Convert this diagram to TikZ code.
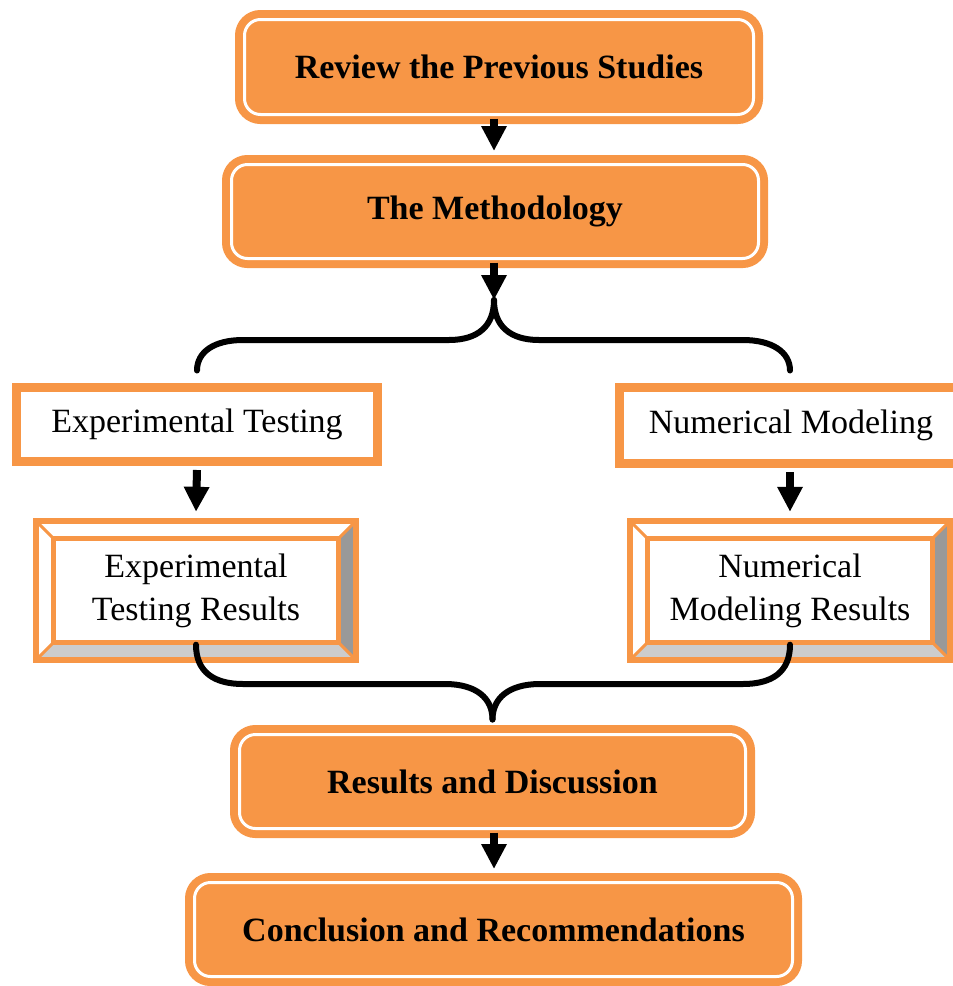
\documentclass[tikz,border=0pt]{standalone}
\usepackage{fontspec}
\setmainfont{Liberation Serif}
\usetikzlibrary{arrows.meta,calc}
\definecolor{org}{HTML}{F79646}
\definecolor{bevR}{HTML}{999999}
\definecolor{bevB}{HTML}{CCCCCC}
\tikzset{
  mainbox/.style={rectangle,rounded corners=16pt,fill=org,draw=org,double=white,
    line width=8pt,double distance=3pt,inner sep=0pt,align=center,
    font=\fontsize{34}{43}\selectfont\bfseries},
  framebox/.style={rectangle,draw=org,line width=8pt,fill=white,inner sep=0pt,
    align=center,font=\fontsize{34}{43}\selectfont},
  bevelbox/.style={rectangle,inner sep=0pt,align=center,
    font=\fontsize{34}{43}\selectfont},
  arr/.style={line width=8pt,-{Triangle[length=25pt,width=24pt]}},
  brace/.style={line width=6pt,line cap=round}
}
\newcommand{\innerframe}[1]{%
  \draw[org,line width=2pt] ([shift={(8pt,-8pt)}]#1.north west) rectangle ([shift={(-8pt,8pt)}]#1.south east);}
\newcommand{\bevel}[1]{%
  \coordinate (#1a) at ([shift={(17pt,-17pt)}]#1.north west);
  \coordinate (#1b) at ([shift={(-17pt,-17pt)}]#1.north east);
  \coordinate (#1c) at ([shift={(-17pt,17pt)}]#1.south east);
  \coordinate (#1d) at ([shift={(17pt,17pt)}]#1.south west);
  \fill[white] (#1.north west) -- (#1.north east) -- (#1b) -- (#1a) -- cycle;
  \fill[white] (#1.north west) -- (#1.south west) -- (#1d) -- (#1a) -- cycle;
  \fill[bevR] (#1.north east) -- (#1.south east) -- (#1c) -- (#1b) -- cycle;
  \fill[bevB] (#1.south west) -- (#1.south east) -- (#1c) -- (#1d) -- cycle;
  \fill[white] (#1a) rectangle (#1c);
  \draw[org,line width=3pt] (#1.north west) -- (#1a) (#1.north east) -- (#1b)
     (#1.south east) -- (#1c) (#1.south west) -- (#1d);
  \draw[org,line width=5pt] (#1a) rectangle (#1c);
  \draw[org,line width=6pt] (#1.north west) rectangle (#1.south east);}
\begin{document}
\begin{tikzpicture}[x=1pt,y=1pt]
\useasboundingbox (0,0) rectangle (953,-986);
\clip (0,0) rectangle (953,-986);
% main boxes
\node[mainbox,minimum width=509pt,minimum height=95pt] (rev) at (499,-67) {Review the Previous Studies};
\node[mainbox,minimum width=527pt,minimum height=94pt] (meth) at (495,-211.5) {The Methodology};
\node[mainbox,minimum width=506pt,minimum height=94pt] (rd) at (492.5,-781.5) {Results and Discussion};
\node[mainbox,minimum width=598pt,minimum height=94pt] (conc) at (493.5,-929.5) {Conclusion and Recommendations};
% framed boxes
\node[framebox,minimum width=362pt,minimum height=75pt] (et) at (197,-424.5) {Experimental Testing};
\innerframe{et}
\node[framebox,minimum width=344pt,minimum height=77pt] (nm) at (791,-425.5) {Numerical Modeling};
\innerframe{nm}
% bevel boxes
\path (196,-590.5) node[bevelbox,minimum width=319pt,minimum height=138pt] (etr) {};
\bevel{etr}
\node[bevelbox] (etrt) at (etr.center) {Experimental\\Testing Results};
\path (790,-590.5) node[bevelbox,minimum width=319pt,minimum height=138pt] (nmr) {};
\bevel{nmr}
\node[bevelbox] (nmrt) at (nmr.center) {Numerical\\Modeling Results};
% arrows
\coordinate (split) at (494,-300);
\draw[arr] (rev.south -| split) -- ([yshift=9.5pt]meth.north -| split);
\draw[arr] (meth.south -| split) -- (split);
\draw[arr] ([yshift=-4pt]et.south) -- ([yshift=9.5pt]etr.north);
\draw[arr] ([yshift=-4pt]nm.south -| nmr.north) -- ([yshift=9.5pt]nmr.north);
\draw[arr] (rd.south -| split) -- ([yshift=9.5pt]conc.north -| split);
% top brace
\draw[brace] (split) .. controls (494,-326) and (478,-340) .. (449,-340) -- (243,-340)
   .. controls (214,-340) and (197,-352) .. ([yshift=12.5pt]et.north);
\draw[brace] (split) .. controls (494,-326) and (510,-340) .. (539,-340) -- (743,-340)
   .. controls (772,-340) and (790,-352) .. ([yshift=12.5pt]nm.north -| nmr.north);
% bottom brace
\draw[brace] ([yshift=15pt]etr.south) .. controls (196,-672) and (214,-684) .. (243,-684) -- (445,-684)
   .. controls (476,-684) and (492.5,-698) .. ([yshift=11pt]rd.north);
\draw[brace] ([yshift=15pt]nmr.south) .. controls (790,-672) and (772,-684) .. (743,-684) -- (540,-684)
   .. controls (509,-684) and (492.5,-698) .. ([yshift=11pt]rd.north);
\end{tikzpicture}
\end{document}
